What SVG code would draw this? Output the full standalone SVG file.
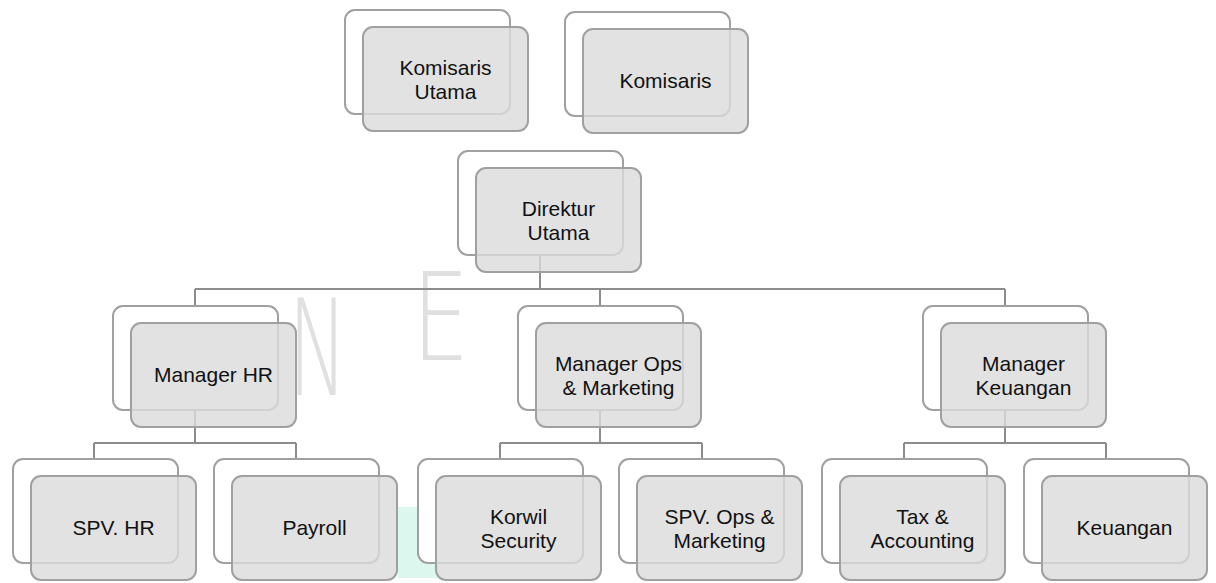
<svg xmlns="http://www.w3.org/2000/svg" width="1216" height="583" viewBox="0 0 1216 583">
<style>
.bk{fill:#ffffff;stroke:#a0a0a0;stroke-width:2}
.fr{fill:#dbdbdb;fill-opacity:0.81;stroke:#a0a0a0;stroke-width:2}
.t{font-family:"Liberation Sans",Arial,sans-serif;font-size:21px;fill:#111;text-anchor:middle}
.c{fill:none;stroke:#8c8c8c;stroke-width:2}
.wm{font-family:"DejaVu Sans",sans-serif;font-weight:200;fill:#e0e0e0}
</style>
<rect width="1216" height="583" fill="#ffffff"/>
<g id="watermark">
<rect x="398" y="507" width="40" height="71" fill="#dcf7ee"/>
<text class="wm" font-size="133" transform="translate(288,395) scale(0.6,1)">N</text>
<text class="wm" font-size="121" transform="translate(412,360) scale(0.75,1)">E</text>
</g>
<g id="connectors">
<path class="c" d="M540,255V289M195,289H1005M195,289V306M600,289V306M1005,289V306"/>
<path class="c" d="M195,410V443M94,443H296M94,443V459M296,443V459"/>
<path class="c" d="M600,410V443M500,443H702M500,443V459M702,443V459"/>
<path class="c" d="M1005,410V443M904,443H1106M904,443V459M1106,443V459"/>
</g>
<g id="komisaris-utama">
<rect class="bk" x="345" y="10" width="165" height="104" rx="10"/>
<rect class="fr" x="363" y="27" width="165" height="104" rx="10"/>
<text class="t" x="445.5" y="75">Komisaris</text>
<text class="t" x="445.5" y="99">Utama</text>
</g>
<g id="komisaris">
<rect class="bk" x="565" y="12" width="165" height="104" rx="10"/>
<rect class="fr" x="583" y="29" width="165" height="104" rx="10"/>
<text class="t" x="665.5" y="88">Komisaris</text>
</g>
<g id="direktur-utama">
<rect class="bk" x="458" y="151" width="165" height="104" rx="10"/>
<rect class="fr" x="476" y="168" width="165" height="104" rx="10"/>
<text class="t" x="558.5" y="216">Direktur</text>
<text class="t" x="558.5" y="240">Utama</text>
</g>
<g id="manager-hr">
<rect class="bk" x="113" y="306" width="165" height="104" rx="10"/>
<rect class="fr" x="131" y="323" width="165" height="104" rx="10"/>
<text class="t" x="213.5" y="382">Manager HR</text>
</g>
<g id="manager-ops">
<rect class="bk" x="518" y="306" width="165" height="104" rx="10"/>
<rect class="fr" x="536" y="323" width="165" height="104" rx="10"/>
<text class="t" x="618.5" y="371">Manager Ops</text>
<text class="t" x="618.5" y="395">&amp; Marketing</text>
</g>
<g id="manager-keuangan">
<rect class="bk" x="923" y="306" width="165" height="104" rx="10"/>
<rect class="fr" x="941" y="323" width="165" height="104" rx="10"/>
<text class="t" x="1023.5" y="371">Manager</text>
<text class="t" x="1023.5" y="395">Keuangan</text>
</g>
<g id="spv-hr">
<rect class="bk" x="13" y="459" width="165" height="104" rx="10"/>
<rect class="fr" x="31" y="476" width="165" height="104" rx="10"/>
<text class="t" x="113.5" y="535">SPV. HR</text>
</g>
<g id="payroll">
<rect class="bk" x="214" y="459" width="165" height="104" rx="10"/>
<rect class="fr" x="232" y="476" width="165" height="104" rx="10"/>
<text class="t" x="314.5" y="535">Payroll</text>
</g>
<g id="korwil-security">
<rect class="bk" x="418" y="459" width="165" height="104" rx="10"/>
<rect class="fr" x="436" y="476" width="165" height="104" rx="10"/>
<text class="t" x="518.5" y="524">Korwil</text>
<text class="t" x="518.5" y="548">Security</text>
</g>
<g id="spv-ops">
<rect class="bk" x="619" y="459" width="165" height="104" rx="10"/>
<rect class="fr" x="637" y="476" width="165" height="104" rx="10"/>
<text class="t" x="719.5" y="524">SPV. Ops &amp;</text>
<text class="t" x="719.5" y="548">Marketing</text>
</g>
<g id="tax-accounting">
<rect class="bk" x="822" y="459" width="165" height="104" rx="10"/>
<rect class="fr" x="840" y="476" width="165" height="104" rx="10"/>
<text class="t" x="922.5" y="524">Tax &amp;</text>
<text class="t" x="922.5" y="548">Accounting</text>
</g>
<g id="keuangan">
<rect class="bk" x="1024" y="459" width="165" height="104" rx="10"/>
<rect class="fr" x="1042" y="476" width="165" height="104" rx="10"/>
<text class="t" x="1124.5" y="535">Keuangan</text>
</g>
</svg>
